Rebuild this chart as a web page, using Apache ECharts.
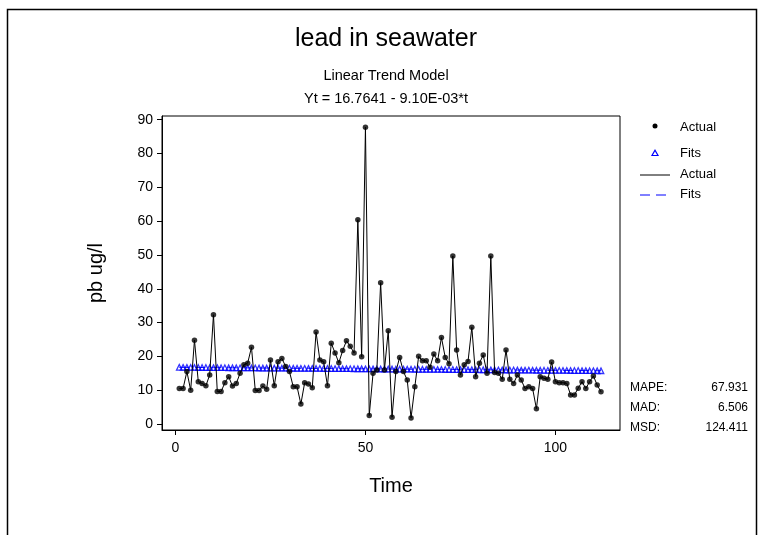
<!DOCTYPE html>
<html><head><meta charset="utf-8">
<script src="https://cdn.jsdelivr.net/npm/echarts@6/dist/echarts.min.js"></script>
<style>html,body{margin:0;padding:0;background:#fff}#c{width:767px;height:535px}</style>
</head><body><div id="c"></div>
<script>
const actual = [
  10.5, 10.5, 15.5, 10, 24.8, 12.5, 12, 11.3, 14.5, 32.3,
  9.6, 9.6, 12.2, 14, 11.2, 12, 15, 17.5, 18, 22.7,
  9.9, 9.9, 11.2, 10.3, 18.9, 11.3, 18.4, 19.4, 17, 15.5,
  11, 11, 5.9, 12.2, 11.8, 10.7, 27.2, 18.9, 18.4, 11.3,
  23.9, 21, 18.1, 21.7, 24.6, 23, 21, 60.4, 19.9, 87.8,
  2.5, 15, 16, 41.8, 16, 27.6, 2, 15.5, 19.7, 15.5,
  13, 1.8, 11, 20, 18.7, 18.7, 16.8, 20.7, 18.7, 25.6,
  19.7, 17.8, 49.7, 21.9, 14.5, 17.5, 18.5, 28.6, 14, 18,
  20.4, 15, 49.7, 15.2, 15, 13.2, 21.9, 13.2, 12, 14.5,
  13, 10.5, 11, 10.5, 4.5, 14, 13.5, 13.2, 18.3, 12.5,
  12.2, 12.2, 12, 8.6, 8.6, 10.6, 12.5, 10.5, 12.5, 14.2,
  11.5, 9.5
];
const fits = [
  16.76, 16.75, 16.74, 16.73, 16.72, 16.71, 16.70, 16.69, 16.68, 16.67,
  16.66, 16.65, 16.65, 16.64, 16.63, 16.62, 16.61, 16.60, 16.59, 16.58,
  16.57, 16.56, 16.55, 16.55, 16.54, 16.53, 16.52, 16.51, 16.50, 16.49,
  16.48, 16.47, 16.46, 16.45, 16.45, 16.44, 16.43, 16.42, 16.41, 16.40,
  16.39, 16.38, 16.37, 16.36, 16.35, 16.35, 16.34, 16.33, 16.32, 16.31,
  16.30, 16.29, 16.28, 16.27, 16.26, 16.25, 16.25, 16.24, 16.23, 16.22,
  16.21, 16.20, 16.19, 16.18, 16.17, 16.16, 16.15, 16.15, 16.14, 16.13,
  16.12, 16.11, 16.10, 16.09, 16.08, 16.07, 16.06, 16.05, 16.05, 16.04,
  16.03, 16.02, 16.01, 16.00, 15.99, 15.98, 15.97, 15.96, 15.95, 15.95,
  15.94, 15.93, 15.92, 15.91, 15.90, 15.89, 15.88, 15.87, 15.86, 15.85,
  15.85, 15.84, 15.83, 15.82, 15.81, 15.80, 15.79, 15.78, 15.77, 15.76,
  15.75, 15.74
];
const xTicks = [0, 50, 100];
const yTicks = [0, 10, 20, 30, 40, 50, 60, 70, 80, 90];
const statLabels = ['MAPE:', 'MAD:', 'MSD:'];
const statValues = ['67.931', '6.506', '124.411'];
const titleText = 'lead in seawater';
const subTitles = ['Linear Trend Model', 'Yt = 16.7641 - 9.10E-03*t'];
const legendNames = ['Actual', 'Fits', 'Actual', 'Fits'];

const FONT = '"Liberation Sans", Arial, sans-serif';
const time = actual.map((_, i) => i + 1);
const actualPts = time.map((t, i) => [t, actual[i]]);
const fitPts = time.map((t, i) => [t, fits[i]]);

const chart = echarts.init(document.getElementById('c'), null, {renderer: 'canvas'});

const graphics = [
  {type: 'rect', shape: {x: 7.5, y: 9.5, width: 749, height: 540}, style: {fill: 'none', stroke: '#000', lineWidth: 1.5}, silent: true},
  {type: 'text', x: 386, y: 39, style: {text: titleText, font: '25px ' + FONT, fill: '#000', textAlign: 'center', textVerticalAlign: 'middle'}},
  {type: 'text', x: 386, y: 76, style: {text: subTitles[0], font: '14.5px ' + FONT, fill: '#000', textAlign: 'center', textVerticalAlign: 'middle'}},
  {type: 'text', x: 386, y: 99, style: {text: subTitles[1], font: '14.5px ' + FONT, fill: '#000', textAlign: 'center', textVerticalAlign: 'middle'}},
  // legend
  {type: 'circle', shape: {cx: 655, cy: 126, r: 2.5}, style: {fill: '#000'}},
  {type: 'polygon', shape: {points: [[652, 155.5], [658, 155.5], [655, 150.3]]}, style: {fill: 'none', stroke: '#0000ff', lineWidth: 1.2}},
  {type: 'line', shape: {x1: 640, y1: 175, x2: 670, y2: 175}, style: {stroke: '#000', lineWidth: 1}},
  {type: 'line', shape: {x1: 640, y1: 195, x2: 670, y2: 195}, style: {stroke: '#0000ff', lineWidth: 1, lineDash: [10, 6]}}
];
[127, 153, 174, 194].forEach((y, i) => {
  graphics.push({type: 'text', x: 680, y: y, style: {text: legendNames[i], font: '13px ' + FONT, fill: '#000', textVerticalAlign: 'middle'}});
});
statLabels.forEach((s, i) => {
  const y = 388 + i * 20;
  graphics.push({type: 'text', x: 630, y: y, style: {text: s, font: '12px ' + FONT, fill: '#000', textVerticalAlign: 'middle'}});
  graphics.push({type: 'text', x: 748, y: y, style: {text: statValues[i], font: '12px ' + FONT, fill: '#000', textAlign: 'right', textVerticalAlign: 'middle'}});
});

chart.setOption({
  animation: false,
  backgroundColor: '#fff',
  grid: {left: 162, top: 116, width: 458, height: 314, show: true, borderColor: '#000', borderWidth: 1, backgroundColor: 'transparent'},
  xAxis: {
    type: 'value', min: -3.55, max: 117,
    name: 'Time', nameLocation: 'middle', nameGap: 46,
    nameTextStyle: {fontSize: 20, color: '#000', fontFamily: FONT},
    axisLine: {show: true, onZero: false, lineStyle: {color: '#000', width: 1}},
    axisTick: {show: true, inside: false, length: 5, customValues: xTicks, lineStyle: {color: '#000'}},
    axisLabel: {customValues: xTicks, fontSize: 14, color: '#000', fontFamily: FONT, margin: 11},
    splitLine: {show: false}
  },
  yAxis: {
    type: 'value', min: -1.78, max: 91.1,
    name: 'pb ug/l', nameLocation: 'middle', nameGap: 56, nameRotate: 90,
    nameTextStyle: {fontSize: 20, color: '#000', fontFamily: FONT},
    axisLine: {show: true, onZero: false, lineStyle: {color: '#000', width: 1}},
    axisTick: {show: true, inside: false, length: 5, customValues: yTicks, lineStyle: {color: '#000'}},
    axisLabel: {customValues: yTicks, fontSize: 14, color: '#000', fontFamily: FONT, margin: 9},
    splitLine: {show: false}
  },
  series: [
    {name: 'Fits line', type: 'line', data: fitPts, symbol: 'none', lineStyle: {color: '#0000ff', width: 1, type: [10, 6]}, z: 1},
    {name: 'Fits', type: 'scatter', data: fitPts, symbol: 'triangle', symbolSize: [5.5, 5.5],
      itemStyle: {color: 'rgba(255,255,255,0)', borderColor: '#0000ff', borderWidth: 1.3}, z: 2},
    {name: 'Actual line', type: 'line', data: actualPts, symbol: 'none', lineStyle: {color: '#000', width: 1}, z: 3},
    {name: 'Actual', type: 'scatter', data: actualPts, symbol: 'circle', symbolSize: 5.5, itemStyle: {color: '#000'}, z: 4}
  ],
  graphic: graphics
});
</script>
</body></html>
